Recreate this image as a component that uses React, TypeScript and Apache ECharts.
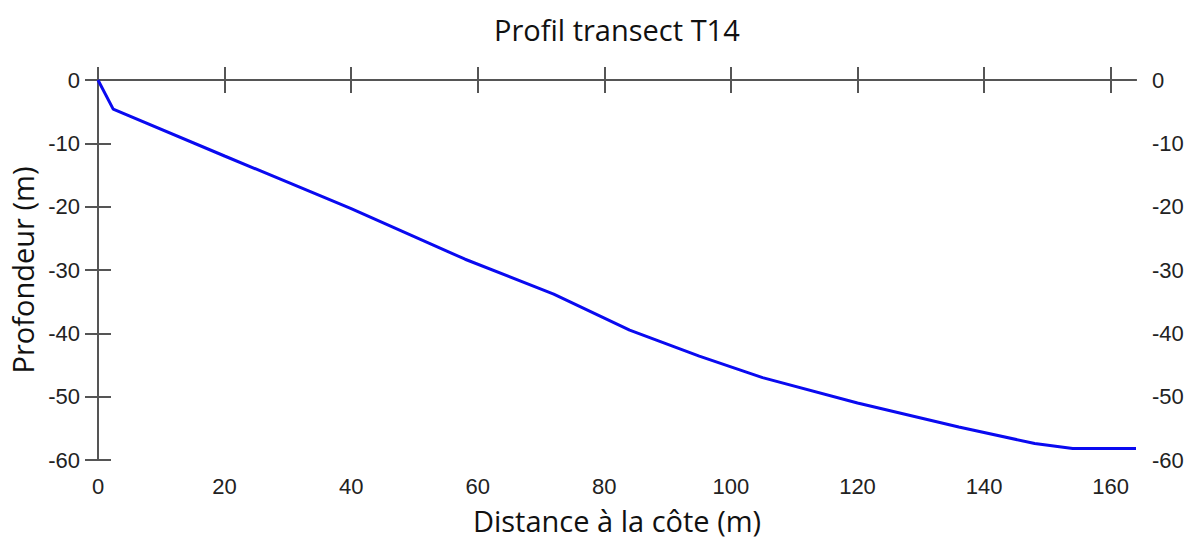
import React, { useEffect, useRef } from "react";
import * as echarts from "echarts";

const distances = [0, 2.4, 20, 40, 58, 72, 84, 95, 105, 120, 136, 148, 154, 164];
const depths = [0, -4.6, -12.0, -20.3, -28.3, -33.8, -39.5, -43.6, -47.0, -51.0, -54.8, -57.4, -58.2, -58.2];
const xTicks = [0, 20, 40, 60, 80, 100, 120, 140, 160];
const titleText = "Profil transect T14";
const xName = "Distance à la côte (m)";
const yName = "Profondeur (m)";

export default function App() {
  const ref = useRef<HTMLDivElement>(null);
  useEffect(() => {
    if (!ref.current) return;
    const chart = echarts.init(ref.current, undefined, { renderer: "svg" });
    const axisLine = { show: true, lineStyle: { color: "#555", width: 2 } };
    const axisTick = { show: true, inside: false, length: 13, lineStyle: { color: "#555", width: 2 } };
    const xAxisTick = { ...axisTick, customValues: xTicks };
    const labelStyle = { color: "#222", fontSize: 22, fontFamily: "Liberation Sans, Arial, sans-serif" };
    const nameFont = { fontSize: 29, color: "#111", fontFamily: "Open Sans, sans-serif" };
    const data = distances.map((d, i) => [d, depths[i]]);
    chart.setOption({
      animation: false,
      backgroundColor: "#fff",
      title: {
        text: titleText,
        left: 489,
        top: 10,
        textStyle: { ...nameFont, fontWeight: "normal" },
      },
      grid: { left: 98, right: 55, top: 80, bottom: 82, containLabel: false },
      xAxis: [
        {
          type: "value",
          position: "bottom",
          min: 0,
          max: 164,
          interval: 20,
          axisLine,
          axisTick: xAxisTick,
          splitLine: { show: false },
          axisLabel: { ...labelStyle, margin: 15, customValues: xTicks },
          name: xName,
          nameLocation: "middle",
          nameGap: 46,
          nameTextStyle: nameFont,
        },
        {
          type: "value",
          position: "top",
          min: 0,
          max: 164,
          interval: 20,
          axisLine,
          axisTick: xAxisTick,
          splitLine: { show: false },
          axisLabel: { show: false },
        },
      ],
      yAxis: [
        {
          type: "value",
          position: "left",
          min: -60,
          max: 0,
          interval: 10,
          axisLine,
          axisTick,
          splitLine: { show: false },
          axisLabel: { ...labelStyle, margin: 18 },
          name: yName,
          nameLocation: "middle",
          nameGap: 59,
          nameRotate: 90,
          nameTextStyle: nameFont,
        },
        {
          type: "value",
          position: "right",
          min: -60,
          max: 0,
          interval: 10,
          axisLine,
          axisTick,
          splitLine: { show: false },
          axisLabel: { ...labelStyle, margin: 16 },
        },
      ],
      series: [
        {
          type: "line",
          data,
          xAxisIndex: 0,
          yAxisIndex: 0,
          showSymbol: false,
          symbol: "none",
          lineStyle: { color: "#0a0af0", width: 3 },
        },
      ],
    });
    return () => chart.dispose();
  }, []);
  return <div ref={ref} style={{ position: "absolute", left: 0, top: 0, width: 1191, height: 542 }} />;
}
